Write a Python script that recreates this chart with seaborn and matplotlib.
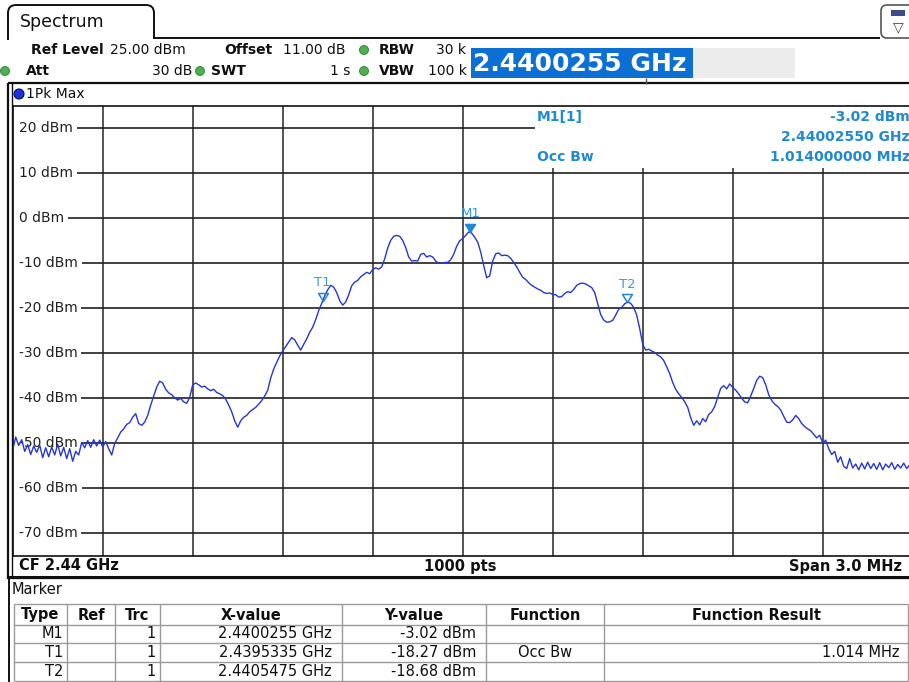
import numpy as np
import matplotlib
matplotlib.use("Agg")
import matplotlib.pyplot as plt
import seaborn as sns
import pandas as pd
from matplotlib.patches import Rectangle, Circle, PathPatch, FancyBboxPatch
from matplotlib.path import Path

# ---------------- data ----------------
cf_ghz = 2.44
span_mhz = 3.0
n_points = 301          # trace read every 10 kHz across the span
ref_level_dbm = 25.0
y_ticks = [20, 10, 0, -10, -20, -30, -40, -50, -60, -70]

trace_dbm = [
    -51.5, -48.6, -50.5, -49.2, -51.8, -50.3, -52.5, -50.6, -52.0, -50.4,
    -53.2, -51.0, -53.0, -50.8, -52.6, -50.2, -52.8, -50.9, -53.4, -51.2,
    -54.0, -51.8, -52.6, -49.8, -51.0, -49.4, -50.9, -49.2, -50.6, -49.3,
    -50.8, -49.6, -51.2, -52.6, -50.0, -48.8, -47.5, -46.8, -45.8, -45.4,
    -44.2, -43.4, -45.6, -46.0, -45.3, -43.8, -41.5, -39.5, -37.5, -36.2,
    -36.6, -38.0, -38.8, -39.2, -39.9, -40.4, -40.0, -40.8, -41.1, -39.8,
    -37.0, -36.6, -37.0, -37.5, -37.3, -37.9, -38.3, -38.0, -38.7, -39.0,
    -39.4, -40.2, -41.5, -43.0, -45.0, -46.4, -45.0, -44.2, -43.8, -43.0,
    -42.5, -42.0, -41.3, -40.5, -39.5, -38.2, -35.5, -33.5, -32.0, -30.6,
    -29.5, -28.5, -27.5, -26.5, -27.0, -28.2, -29.3, -28.0, -26.8, -25.3,
    -24.2, -22.5, -20.5, -18.9, -17.2, -15.9, -14.9, -15.3, -16.5, -18.3,
    -19.3, -18.6, -17.0, -15.0, -14.2, -13.8, -13.0, -12.5, -12.0, -12.3,
    -11.4, -11.0, -11.3, -10.8, -9.0, -6.6, -4.9, -4.0, -3.8, -4.0,
    -4.9, -6.5, -8.6, -9.5, -9.4, -9.5, -8.0, -7.8, -8.6, -8.3,
    -8.6, -9.5, -10.0, -10.0, -9.8, -9.8, -9.2, -8.0, -6.2, -5.0,
    -4.5, -3.8, -3.02, -3.3, -4.2, -5.3, -7.5, -10.5, -13.2, -12.8,
    -9.5, -7.9, -7.7, -8.3, -8.2, -8.3, -8.9, -9.8, -10.8, -12.0,
    -13.1, -13.6, -14.3, -14.9, -15.3, -15.7, -16.0, -16.5, -16.7, -16.6,
    -16.9, -17.0, -17.5, -17.4, -16.7, -16.3, -16.5, -15.8, -14.9, -14.5,
    -14.4, -14.6, -15.0, -15.4, -16.5, -19.0, -21.4, -22.6, -23.1, -23.0,
    -22.7, -21.5, -20.2, -19.8, -19.0, -18.6, -18.9, -19.8, -21.5, -24.5,
    -28.0, -29.3, -29.1, -29.5, -29.8, -30.4, -30.8, -31.6, -33.0, -34.5,
    -36.5, -38.0, -39.0, -39.8, -40.8, -42.0, -44.3, -46.0, -45.0, -45.9,
    -44.5, -45.2, -43.6, -43.0, -41.8, -39.8, -37.8, -37.2, -37.9, -36.8,
    -37.6, -38.2, -39.0, -40.0, -40.8, -41.0, -39.5, -37.8, -36.0, -35.1,
    -35.4, -37.0, -39.2, -40.5, -41.3, -41.8, -42.6, -44.0, -45.3, -45.4,
    -44.8, -43.8, -44.5, -45.6, -46.3, -46.8, -47.2, -48.0, -48.8, -48.2,
    -49.9, -49.3, -51.2, -52.5, -51.8, -54.2, -53.0, -55.1, -55.6, -53.4,
    -55.5, -54.6, -55.9, -54.4, -55.7, -54.2, -55.6, -54.5, -55.8, -54.3,
    -55.9, -54.6, -55.4, -54.3, -55.8, -54.7, -55.5, -54.4, -55.6, -54.8,
    -55.3,
]

marker_names = ["M1", "T1", "T2"]
marker_freq_ghz = [2.4400255, 2.4395335, 2.4405475]
marker_level_dbm = [-3.02, -18.27, -18.68]
marker_filled = [True, False, False]
marker_trc = ["1", "1", "1"]
marker_xtext = ["2.4400255 GHz", "2.4395335 GHz", "2.4405475 GHz"]
marker_ytext = ["-3.02 dBm", "-18.27 dBm", "-18.68 dBm"]
marker_func = ["", "Occ Bw", ""]
marker_result = ["", "1.014 MHz", ""]
table_headers = ["Type", "Ref", "Trc", "X-value", "Y-value", "Function", "Function Result"]

# ---------------- style ----------------
sns.set_theme(style="white")
plt.rcParams["font.family"] = ["DejaVu Sans"]

W, H = 909, 682
fig = plt.figure(figsize=(W / 100, H / 100), dpi=100)
fig.patch.set_facecolor("white")

BLUE_TXT = "#1f8ad3"
TRACE_C = "#2436d8"
GRID_C = "#454545"

# main spectrum axes (pixel geometry of the screen)
x0, x1, ytop, ybot = 12.7, 912.7, 105.8, 555.8
ax = fig.add_axes([x0 / W, 1 - ybot / H, (x1 - x0) / W, (ybot - ytop) / H])
ax.set_facecolor("white")

freq_off_mhz = np.linspace(-span_mhz / 2, span_mhz / 2, n_points)
df = pd.DataFrame({"f": freq_off_mhz, "lvl": trace_dbm})

ax.set_xlim(-span_mhz / 2, span_mhz / 2)
ax.set_ylim(ref_level_dbm - 100, ref_level_dbm)

for gx in np.arange(-1.2, 1.21, 0.3):
    ax.axvline(gx, color=GRID_C, lw=1.3, zorder=1)
for gy in y_ticks:
    ax.axhline(gy, color="#202020", lw=1.2, zorder=1)

# white marker-info area in the upper right and strip under the level labels
ax.add_patch(Rectangle((0.5803, 0.862), 0.5, 0.2, transform=ax.transAxes,
                       facecolor="white", edgecolor="none", zorder=2))
ax.add_patch(Rectangle((0.0, 0.0), 0.008, 1.0, transform=ax.transAxes,
                       facecolor="white", edgecolor="none", zorder=2))

ytr = ax.get_yaxis_transform()
for gy in y_ticks:
    ax.text(0.0072, gy, f"{gy} dBm", transform=ytr, ha="left", va="center",
            fontsize=10, color="#202020", zorder=3,
            bbox=dict(boxstyle="square,pad=0.25", facecolor="white", edgecolor="none"))

sns.lineplot(data=df, x="f", y="lvl", ax=ax, color=TRACE_C, lw=1.0, zorder=4,
             estimator=None, sort=False)

tri = Path([(-0.62, 1.0), (0.62, 1.0), (0.0, 0.0), (-0.62, 1.0)],
           [Path.MOVETO, Path.LINETO, Path.LINETO, Path.CLOSEPOLY])
for name, fg, lv, filled in zip(marker_names, marker_freq_ghz, marker_level_dbm, marker_filled):
    fx = (fg - cf_ghz) * 1000
    ax.plot([fx], [lv], marker=tri, ms=11.5, mew=1.1,
            mfc=BLUE_TXT if filled else "none", mec=BLUE_TXT, zorder=6, ls="none")
    ax.annotate(name, (fx, lv), xytext=(0, 13), textcoords="offset points",
                ha="center", va="center", fontsize=9.5, color="#3a9ade", zorder=6)

ax.set_xticks([]); ax.set_yticks([])
ax.set_xlabel(""); ax.set_ylabel("")
for s in ax.spines.values():
    s.set_color("#101010"); s.set_linewidth(1.2)

# marker info text
def ax_y(py):
    return (ybot - py) / (ybot - ytop)

ax.text(0.5827, ax_y(117), "M1[1]", transform=ax.transAxes, ha="left", va="center",
        fontsize=10, fontweight="bold", color=BLUE_TXT, zorder=7)
ax.text(0.5827, ax_y(157), "Occ Bw", transform=ax.transAxes, ha="left", va="center",
        fontsize=10, fontweight="bold", color=BLUE_TXT, zorder=7)
rx = (910 - x0) / (x1 - x0)
ax.text(rx, ax_y(117), marker_ytext[0], transform=ax.transAxes, ha="right", va="center",
        fontsize=10, fontweight="bold", color=BLUE_TXT, zorder=7)
ax.text(rx, ax_y(137), f"{marker_freq_ghz[0]:.8f} GHz", transform=ax.transAxes, ha="right",
        va="center", fontsize=10, fontweight="bold", color=BLUE_TXT, zorder=7)
ax.text(rx, ax_y(157), "1.014000000 MHz", transform=ax.transAxes, ha="right", va="center",
        fontsize=10, fontweight="bold", color=BLUE_TXT, zorder=7)

# ---------------- overlay in screen pixels ----------------
ov = fig.add_axes([0, 0, 1, 1], zorder=10)
ov.set_xlim(0, W); ov.set_ylim(H, 0)
ov.axis("off")
ov.patch.set_alpha(0)


def line(xs, ys, c="#101010", lw=1.2):
    ov.plot(xs, ys, color=c, lw=lw, solid_capstyle="butt")


def txt(x, y, s, ha="left", size=10, weight="normal", color="#101010"):
    ov.text(x, y, s, ha=ha, va="center", fontsize=size, fontweight=weight, color=color)


def dot(x, y, c="#4cb050", r=4.5):
    ov.add_patch(Circle((x, y), r, facecolor=c, edgecolor="#2e7d32", lw=0.6))


# tab
verts = [(8, 40), (8, 13), (8, 5), (16, 5), (146, 5), (154, 5), (154, 13), (154, 38), (880, 38)]
codes = [Path.MOVETO, Path.LINETO, Path.CURVE3, Path.CURVE3, Path.LINETO,
         Path.CURVE3, Path.CURVE3, Path.LINETO, Path.LINETO]
ov.add_patch(PathPatch(Path(verts, codes), facecolor="none", edgecolor="#101010", lw=1.4))
txt(20, 22, "Spectrum", size=12.5)

# right icon
ov.add_patch(FancyBboxPatch((881, 5), 36, 33, boxstyle="round,pad=0,rounding_size=6",
                            facecolor="white", edgecolor="#555555", lw=1.2))
ov.add_patch(Rectangle((891, 10), 14, 6, facecolor="#3a4a8a", edgecolor="none"))
txt(898, 27, "\u25BD", ha="center", size=10, color="#404040")

# header settings
txt(31, 50, "Ref Level", weight="bold")
txt(110, 50, "25.00 dBm")
txt(224, 50, "Offset", weight="bold")
txt(283, 50, "11.00 dB")
dot(364, 50)
txt(379, 50, "RBW", weight="bold")
txt(436, 50, "30 k")
dot(5, 71)
txt(26, 71, "Att", weight="bold")
txt(192, 71, "30 dB", ha="right")
dot(200, 71)
txt(211, 71, "SWT", weight="bold")
txt(350, 71, "1 s", ha="right")
dot(364, 71)
txt(379, 71, "VBW", weight="bold")
txt(428, 71, "100 k")

ov.add_patch(Rectangle((471, 48), 222, 30, facecolor="#0b6fd4", edgecolor="none", zorder=3))
ov.add_patch(Rectangle((693, 48), 102, 30, facecolor="#ececec", edgecolor="none", zorder=3))
ov.text(473, 64, f"{marker_freq_ghz[0]:.7f} GHz", ha="left", va="center", fontsize=18,
        fontweight="bold", color="white", zorder=4)
line([646, 646], [78, 84], c="#555555", lw=1)

# plot frame
ov.add_patch(Rectangle((8, 83), 920, 495, facecolor="none", edgecolor="#101010", lw=1.6))
line([12, 12], [83, 578], lw=1.0)
ov.add_patch(Circle((19, 94), 5, facecolor="#1a2fe0", edgecolor="#0a1060", lw=0.8))
txt(26, 94, "1Pk Max")
txt(19, 566, f"CF {cf_ghz:.2f} GHz", weight="bold", size=10.5)
txt(460, 566, "1000 pts", ha="center", weight="bold", size=10.5)
txt(902, 566, f"Span {span_mhz:.1f} MHz", ha="right", weight="bold", size=10.5)
line([8, 920], [577, 577], lw=2.2)

# marker table
line([9, 9], [578, 682], lw=1.4)
txt(12, 590, "Marker", size=10.5)
col_x = [14, 67, 115, 160, 342, 486, 604, 908]
row_y = [604, 625, 643, 662, 681]
TC = "#9a9a9a"
for yy in row_y:
    line([col_x[0], col_x[-1]], [yy, yy], c=TC, lw=1)
for xx in col_x:
    line([xx, xx], [row_y[0], row_y[-1]], c=TC, lw=1)
for i, h in enumerate(table_headers):
    txt((col_x[i] + col_x[i + 1]) / 2, 615, h, ha="center", weight="bold", size=10.5)
for r in range(3):
    yy = (row_y[r + 1] + row_y[r + 2]) / 2
    txt(col_x[1] - 4, yy, marker_names[r], ha="right", size=10.5)
    txt(col_x[3] - 4, yy, marker_trc[r], ha="right", size=10.5)
    txt(col_x[4] - 10, yy, marker_xtext[r], ha="right", size=10.5)
    txt(col_x[5] - 10, yy, marker_ytext[r], ha="right", size=10.5)
    txt((col_x[5] + col_x[6]) / 2, yy, marker_func[r], ha="center", size=10.5)
    txt(col_x[7] - 8, yy, marker_result[r], ha="right", size=10.5)

fig.savefig("out.png", dpi=100)
